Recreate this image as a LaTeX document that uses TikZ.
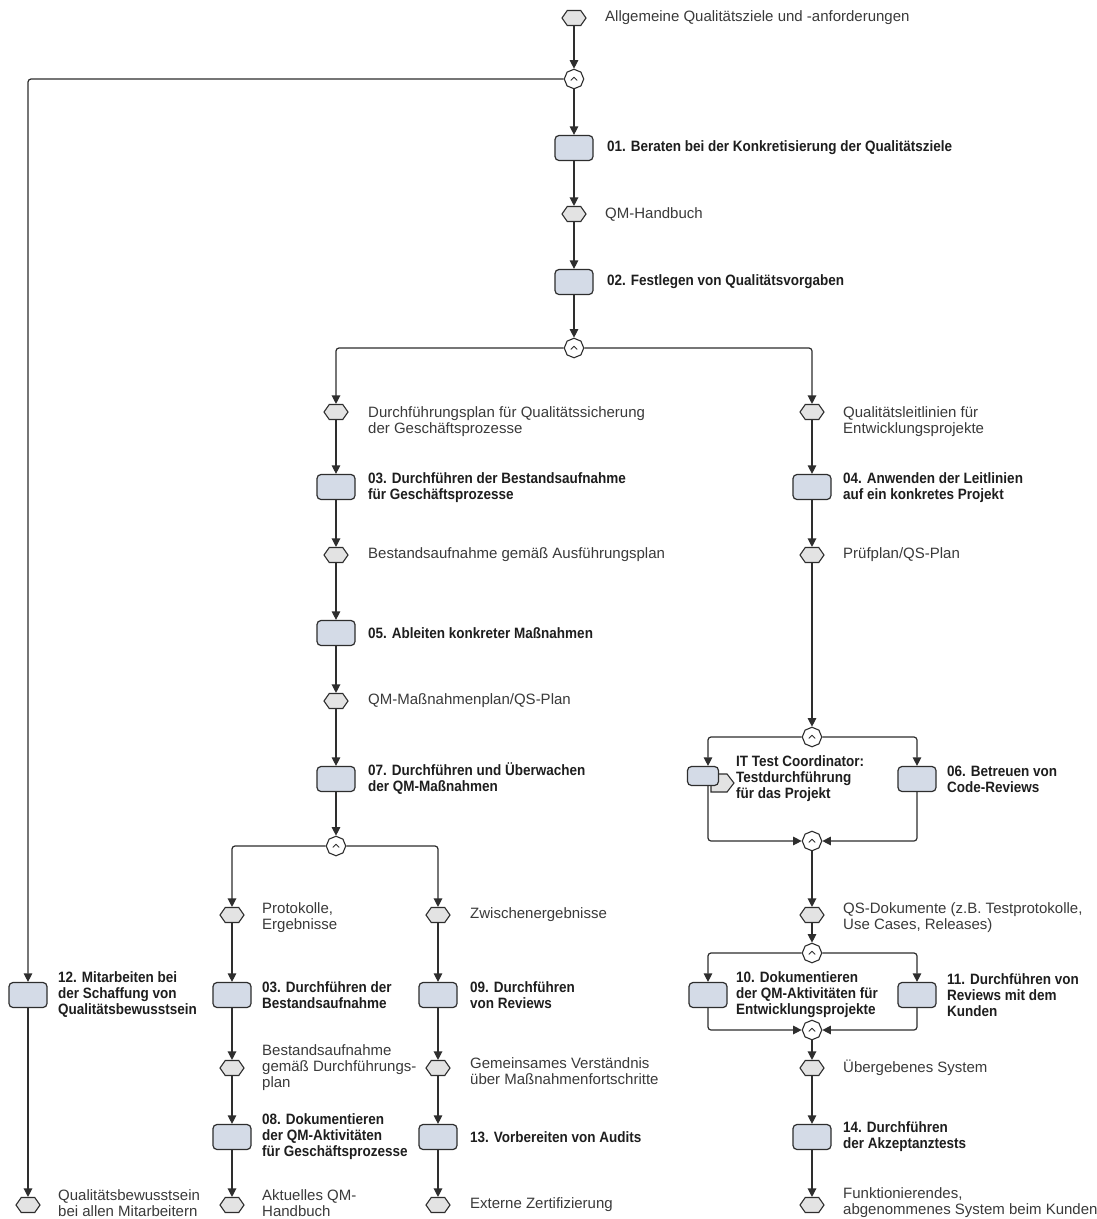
\documentclass[tikz,border=0pt]{standalone}
\usepackage{fontspec}
\setmainfont{Liberation Sans}[BoldFeatures={FakeStretch=0.9}]
\usetikzlibrary{arrows.meta,shapes.geometric,shapes.symbols,calc}
\definecolor{linec}{HTML}{2E2E2E}
\definecolor{boxfill}{HTML}{D4DBE7}
\definecolor{hexfill}{HTML}{E3E3E3}
\definecolor{txtc}{HTML}{3A3A3A}
\definecolor{btxtc}{HTML}{1E1E1E}
\tikzset{
  fbox/.style={draw=linec, fill=boxfill, rounded corners=4pt, minimum width=38pt, minimum height=25pt, inner sep=0pt, line width=1.2pt},
  ehex/.style={shape=signal, signal to=east and west, signal pointer angle=110, draw=linec, fill=hexfill, minimum width=24pt, minimum height=15pt, inner sep=0pt, line width=1.1pt},
  andc/.style={regular polygon, regular polygon sides=8, shape border rotate=22.5, draw=linec, fill=white, minimum size=19.5pt, inner sep=0pt, line width=1.1pt,
    path picture={\draw[line width=0.9pt, line join=round] ([xshift=-3.2pt,yshift=-1.4pt]path picture bounding box.center) -- ++(3.2pt,3.2pt) -- ++(3.2pt,-3.2pt);}},
  arr/.style={draw=linec, line width=1.2pt, -{Triangle[width=8.5pt,length=8.5pt]}},
  elb/.style={arr, rounded corners=3pt},
  txt/.style={anchor=west, align=left, inner sep=0pt, text=txtc, font=\fontsize{15}{16}\selectfont},
  btxt/.style={anchor=west, align=left, inner sep=0pt, text=btxtc, font=\fontsize{15}{16}\selectfont\bfseries},
}
\begin{document}
\begin{tikzpicture}[x=1pt,y=-1pt]
\useasboundingbox[fill=white] (0,0) rectangle (1096,1219);
% main column
\node[ehex] (h0) at (574,18) {};
\node[andc] (a1) at (574,79) {};
\node[fbox] (b01) at (574,148) {};
\node[ehex] (h1) at (574,214) {};
\node[fbox] (b02) at (574,282) {};
\node[andc] (a2) at (574,348) {};
% left column
\node[ehex] (hL1) at (336,412) {};
\node[fbox] (b03) at (336,487) {};
\node[ehex] (hL2) at (336,555) {};
\node[fbox] (b05) at (336,633) {};
\node[ehex] (hL3) at (336,701) {};
\node[fbox] (b07) at (336,779) {};
\node[andc] (a3) at (336,846) {};
% sub column A
\node[ehex] (hA1) at (232,915) {};
\node[fbox] (b03b) at (232,995) {};
\node[ehex] (hA2) at (232,1068) {};
\node[fbox] (b08) at (232,1137) {};
\node[ehex] (hA3) at (232,1205) {};
% sub column B
\node[ehex] (hB1) at (438,915) {};
\node[fbox] (b09) at (438,995) {};
\node[ehex] (hB2) at (438,1068) {};
\node[fbox] (b13) at (438,1137) {};
\node[ehex] (hB3) at (438,1205) {};
% far left
\node[fbox] (b12) at (28,995) {};
\node[ehex] (hC) at (28,1205) {};
% right column
\node[ehex] (hR1) at (812,412) {};
\node[fbox] (b04) at (812,487) {};
\node[ehex] (hR2) at (812,555) {};
\node[andc] (a4) at (812,737) {};
\node[shape=signal, signal to=east, signal pointer angle=105, draw=linec, fill=hexfill, minimum width=23pt, minimum height=18pt, inner sep=0pt, line width=1.1pt] (bitif) at (719,783) {};
\node[fbox, minimum width=31pt, minimum height=19pt] (bit) at (703,776) {};
\node[fbox] (b06) at (917,779) {};
\node[andc] (a5) at (812,841) {};
\node[ehex] (hR3) at (812,915) {};
\node[andc] (a6) at (812,953) {};
\node[fbox] (b10) at (708,995) {};
\node[fbox] (b11) at (917,995) {};
\node[andc] (a7) at (812,1030) {};
\node[ehex] (hR4) at (812,1068) {};
\node[fbox] (b14) at (812,1137) {};
\node[ehex] (hR5) at (812,1205) {};

% connectors
\draw[arr] (h0) -- (a1);
\draw[arr] (a1) -- (b01);
\draw[elb] (a1.west) -| (b12.north);
\draw[arr] (b01) -- (h1);
\draw[arr] (h1) -- (b02);
\draw[arr] (b02) -- (a2);
\draw[elb] (a2.west) -| (hL1.north);
\draw[elb] (a2.east) -| (hR1.north);
\draw[arr] (hL1) -- (b03);
\draw[arr] (b03) -- (hL2);
\draw[arr] (hL2) -- (b05);
\draw[arr] (b05) -- (hL3);
\draw[arr] (hL3) -- (b07);
\draw[arr] (b07) -- (a3);
\draw[elb] (a3.west) -| (hA1.north);
\draw[elb] (a3.east) -| (hB1.north);
\draw[arr] (hA1) -- (b03b);
\draw[arr] (b03b) -- (hA2);
\draw[arr] (hA2) -- (b08);
\draw[arr] (b08) -- (hA3);
\draw[arr] (hB1) -- (b09);
\draw[arr] (b09) -- (hB2);
\draw[arr] (hB2) -- (b13);
\draw[arr] (b13) -- (hB3);
\draw[arr] (b12) -- (hC);
\draw[arr] (hR1) -- (b04);
\draw[arr] (b04) -- (hR2);
\draw[arr] (hR2) -- (a4);
\draw[elb] (a4.west) -| ([xshift=5pt]bit.north);
\draw[elb] (a4.east) -| (b06.north);
\draw[elb] ([xshift=5pt]bit.south) |- (a5.west);
\draw[elb] (b06.south) |- (a5.east);
\draw[arr] (a5) -- (hR3);
\draw[arr] (hR3) -- (a6);
\draw[elb] (a6.west) -| (b10.north);
\draw[elb] (a6.east) -| (b11.north);
\draw[elb] (b10.south) |- (a7.west);
\draw[elb] (b11.south) |- (a7.east);
\draw[arr] (a7) -- (hR4);
\draw[arr] (hR4) -- (b14);
\draw[arr] (b14) -- (hR5);

% texts
\node[txt] (t0) at (605,18) {Allgemeine Qualitätsziele und -anforderungen};
\node[btxt] (t01) at (607,148) {01. Beraten bei der Konkretisierung der Qualitätsziele};
\node[txt] (t1) at (605,214) {QM-Handbuch};
\node[btxt] (t02) at (607,282) {02. Festlegen von Qualitätsvorgaben};
\node[txt] (tL1) at (368,422) {Durchführungsplan für Qualitätssicherung\\der Geschäftsprozesse};
\node[btxt] (t03) at (368,488) {03. Durchführen der Bestandsaufnahme\\für Geschäftsprozesse};
\node[txt] (tL2) at (368,555) {Bestandsaufnahme gemäß Ausführungsplan};
\node[btxt] (t05) at (368,633) {05. Ableiten konkreter Maßnahmen};
\node[txt] (tL3) at (368,701) {QM-Maßnahmenplan/QS-Plan};
\node[btxt] (t07) at (368,779) {07. Durchführen und Überwachen\\der QM-Maßnahmen};
\node[txt] (tA1) at (262,918) {Protokolle,\\Ergebnisse};
\node[txt] (tB1) at (470,915) {Zwischenergebnisse};
\node[btxt] (t03b) at (262,995) {03. Durchführen der\\Bestandsaufnahme};
\node[btxt] (t09) at (470,995) {09. Durchführen\\von Reviews};
\node[txt] (tA2) at (262,1068) {Bestandsaufnahme\\gemäß Durchführungs-\\plan};
\node[txt] (tB2) at (470,1071) {Gemeinsames Verständnis\\über Maßnahmenfortschritte};
\node[btxt] (t08) at (262,1137) {08. Dokumentieren\\der QM-Aktivitäten\\für Geschäftsprozesse};
\node[btxt] (t13) at (470,1137) {13. Vorbereiten von Audits};
\node[txt] (tA3) at (262,1203) {Aktuelles QM-\\Handbuch};
\node[txt] (tB3) at (470,1205) {Externe Zertifizierung};
\node[btxt] (t12) at (58,995) {12. Mitarbeiten bei\\der Schaffung von\\Qualitätsbewusstsein};
\node[txt] (tC) at (58,1203) {Qualitätsbewusstsein\\bei allen Mitarbeitern};
\node[txt] (tR1) at (843,422) {Qualitätsleitlinien für\\Entwicklungsprojekte};
\node[btxt] (t04) at (843,488) {04. Anwenden der Leitlinien\\auf ein konkretes Projekt};
\node[txt] (tR2) at (843,555) {Prüfplan/QS-Plan};
\node[btxt] (tit) at (736,779) {IT Test Coordinator:\\Testdurchführung\\für das Projekt};
\node[btxt] (t06) at (947,779) {06. Betreuen von\\Code-Reviews};
\node[txt] (tR3) at (843,918) {QS-Dokumente (z.B. Testprotokolle,\\Use Cases, Releases)};
\node[btxt] (t10) at (736,995) {10. Dokumentieren\\der QM-Aktivitäten für\\Entwicklungsprojekte};
\node[btxt] (t11) at (947,995) {11. Durchführen von\\Reviews mit dem\\Kunden};
\node[txt] (tR4) at (843,1068) {Übergebenes System};
\node[btxt] (t14) at (843,1137) {14. Durchführen\\der Akzeptanztests};
\node[txt] (tR5) at (843,1203) {Funktionierendes,\\abgenommenes System beim Kunden};
\end{tikzpicture}
\end{document}
